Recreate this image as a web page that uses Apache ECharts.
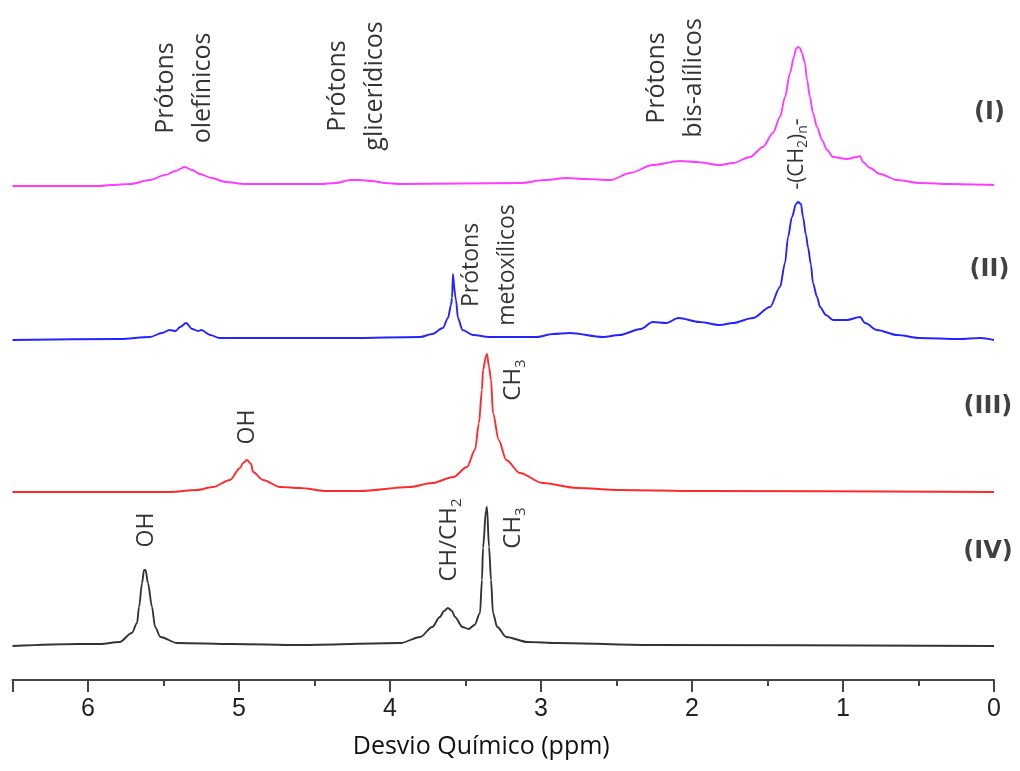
<!DOCTYPE html>
<html>
<head>
<meta charset="utf-8">
<script src="https://cdn.jsdelivr.net/npm/echarts@6/dist/echarts.min.js"></script>
<style>
html,body{margin:0;padding:0;background:#fff;}
#chart{width:1020px;height:771px;}
</style>
</head>
<body>
<div id="chart"></div>
<script>
// ---- data: [chemical shift (ppm), intensity above baseline] ----
const specI = [[6.50,0],[5.92,0],[5.85,1],[5.72,2],[5.59,6],[5.49,11],[5.42,15],[5.36,19],[5.31,16],[5.26,12],[5.18,8],[5.09,4],[4.96,2],[4.85,2],[4.46,2],[4.36,3],[4.26,6],[4.20,6],[4.12,5],[4.03,3],[3.93,2],[3.14,3],[2.97,6],[2.83,8],[2.71,7],[2.54,6],[2.41,13],[2.26,21],[2.08,25],[1.97,24],[1.815,21],[1.728,23],[1.616,29],[1.530,39],[1.464,53],[1.417,69],[1.384,89],[1.351,113],[1.325,129],[1.311,137],[1.298,139],[1.285,138],[1.272,133],[1.252,123],[1.238,106],[1.219,89],[1.199,73],[1.172,59],[1.139,46],[1.106,36],[1.066,29],[0.974,27],[0.907,29],[0.887,30],[0.868,24],[0.821,18],[0.755,12],[0.642,6],[0.490,3],[0.29,2],[0,1]];
const specII = [[6.50,0],[5.79,1],[5.59,3],[5.51,7],[5.46,10],[5.42,9],[5.39,13],[5.35,17],[5.31,11],[5.27,9],[5.25,10],[5.19,5],[5.13,2],[4.91,2],[4.26,2],[3.80,3],[3.72,6],[3.65,12],[3.616,22],[3.596,35],[3.589,42],[3.583,66],[3.579,66],[3.563,40],[3.55,22],[3.52,10],[3.45,5],[3.34,3],[3.03,3],[2.92,6],[2.81,7],[2.59,3],[2.48,5],[2.34,11],[2.26,18],[2.17,17],[2.09,22],[1.95,18],[1.815,15],[1.728,17],[1.596,22],[1.483,33],[1.417,53],[1.384,77],[1.364,103],[1.338,123],[1.311,136],[1.298,138],[1.278,136],[1.265,123],[1.245,105],[1.232,93],[1.212,75],[1.199,57],[1.172,43],[1.152,33],[1.113,25],[1.066,20],[0.974,20],[0.887,23],[0.854,17],[0.775,10],[0.642,5],[0.490,2],[0.23,1],[0.09,2],[0,0]];
const specIII = [[6.50,0],[5.46,0],[5.278,2],[5.172,5],[5.060,12],[4.993,24],[4.973,29],[4.947,32],[4.920,28],[4.907,20],[4.841,12],[4.728,5],[4.596,4],[4.42,1],[4.20,1],[3.87,5],[3.72,9],[3.58,15],[3.49,25],[3.437,42],[3.411,69],[3.391,102],[3.384,122],[3.364,136],[3.358,138],[3.344,125],[3.331,112],[3.318,79],[3.28,52],[3.23,32],[3.14,19],[2.99,9],[2.76,4],[2.48,2],[1.95,1],[0,0]];
const specIV = [[6.50,0],[6.06,2],[5.92,2],[5.79,4],[5.71,13],[5.675,23],[5.662,39],[5.642,63],[5.629,76],[5.619,76],[5.603,63],[5.576,39],[5.556,19],[5.52,9],[5.41,3],[5.04,2],[4.60,1],[3.93,3],[3.80,9],[3.72,19],[3.67,29],[3.642,35],[3.616,38],[3.589,35],[3.57,29],[3.52,19],[3.48,17],[3.44,21],[3.404,33],[3.391,66],[3.384,98],[3.364,136],[3.358,139],[3.344,99],[3.331,66],[3.318,33],[3.29,19],[3.23,9],[3.09,4],[2.89,3],[2.28,1],[0,0]];
const offsets = [494, 340, 188, 34];
const traceNames = ['(I)', '(II)', '(III)', '(IV)'];
const traceColors = ['#ff3cff', '#2424ff', '#ff2a2a', '#333333'];
const traceLabelAt = [[0.03, 567], [0.03, 410], [0.04, 273], [0.04, 128]];
const xTickLabels = ['0', '1', '2', '3', '4', '5', '6'];
// annotations: [text, ppm, level, style]
const annotations = [
  ['Prótons\nolefínicos', 5.36, 592, 'big'],
  ['Prótons\nglicerídicos', 4.225, 594, 'big'],
  ['Prótons\nbis-alílicos', 2.11, 602, 'big'],
  ['{a|-(CH}{s|2}{a|)}{s|n}{a|-}', 1.305, 526, 'small'],
  ['Prótons\nmetoxílicos', 3.34, 415, 'mid'],
  ['{b|CH}{t|3}', 3.185, 300, 'rich'],
  ['OH', 4.947, 253, 'mid'],
  ['OH', 5.61, 150, 'mid'],
  ['{b|CH/CH}{t|2}', 3.61, 140, 'rich'],
  ['{b|CH}{t|3}', 3.185, 152, 'rich']
];

const specs = [specI, specII, specIII, specIV];
const FONT = '"Open Sans", "Noto Sans", sans-serif';
const annStyles = {
  big: {fontSize: 25, lineHeight: 37},
  mid: {fontSize: 23, lineHeight: 36},
  small: {fontSize: 21},
  rich: {fontSize: 24}
};

const series = specs.map((s, i) => ({
  type: 'line',
  name: traceNames[i],
  data: s.map(p => [p[0], p[1] + offsets[i]]),
  showSymbol: false,
  symbol: 'none',
  smooth: 0.3,
  smoothMonotone: 'x',
  lineStyle: {color: traceColors[i], width: 1.9},
  z: 2
}));

series.push({
  type: 'scatter',
  symbolSize: 0,
  silent: true,
  z: 5,
  data: annotations.map(a => ({
    value: [a[1], a[2]],
    label: Object.assign({
      show: true,
      formatter: a[0],
      position: 'inside',
      rotate: 90,
      align: 'center',
      verticalAlign: 'middle',
      color: '#000',
      fontFamily: FONT,
      rich: {
        a: {fontSize: 21, fontFamily: FONT, color: '#000', lineHeight: 27, verticalAlign: 'middle'},
        s: {fontSize: 14, fontFamily: FONT, color: '#000', lineHeight: 14, verticalAlign: 'bottom'},
        b: {fontSize: 24, fontFamily: FONT, color: '#000', lineHeight: 30, verticalAlign: 'middle'},
        t: {fontSize: 15, fontFamily: FONT, color: '#000', lineHeight: 15, verticalAlign: 'bottom'}
      }
    }, annStyles[a[3]])
  }))
});

series.push({
  type: 'scatter',
  symbolSize: 0,
  silent: true,
  z: 5,
  data: traceNames.map((n, i) => ({
    value: traceLabelAt[i],
    label: {
      show: true,
      formatter: n,
      position: 'inside',
      align: 'center',
      verticalAlign: 'middle',
      color: '#111',
      fontFamily: '"DejaVu Sans", sans-serif',
      fontWeight: 'bold',
      fontSize: 24
    }
  }))
});

const chart = echarts.init(document.getElementById('chart'), null, {renderer: 'canvas'});
chart.setOption({
  animation: false,
  backgroundColor: '#fff',
  grid: {left: 12.5, right: 26, top: 0, bottom: 91, containLabel: false},
  xAxis: [{
    type: 'value',
    min: 0,
    max: 6.5,
    interval: 0.5,
    inverse: true,
    position: 'bottom',
    splitLine: {show: false},
    axisLine: {show: true, lineStyle: {color: '#444', width: 2}},
    axisTick: {show: true, length: 6, inside: false, lineStyle: {color: '#444', width: 2}},
    axisLabel: {
      show: true,
      margin: 17,
      fontSize: 25,
      color: '#222',
      fontFamily: '"Liberation Sans Narrow", "Liberation Sans", sans-serif',
      formatter: v => (Math.abs(v - Math.round(v)) < 1e-6 ? xTickLabels[Math.round(v)] : '')
    },
    name: 'Desvio Químico (ppm)',
    nameLocation: 'middle',
    nameGap: 54,
    nameTextStyle: {fontSize: 25, color: '#111', fontFamily: FONT, padding: [0, 44, 0, 0]}
  }, {
    type: 'value',
    min: 0,
    max: 6.5,
    interval: 1,
    inverse: true,
    position: 'bottom',
    offset: 0,
    splitLine: {show: false},
    axisLine: {show: false},
    axisTick: {show: true, length: 12, lineStyle: {color: '#444', width: 2}},
    axisLabel: {show: false}
  }],
  yAxis: {type: 'value', min: 0, max: 680, show: false},
  series: series
});
</script>
</body>
</html>
